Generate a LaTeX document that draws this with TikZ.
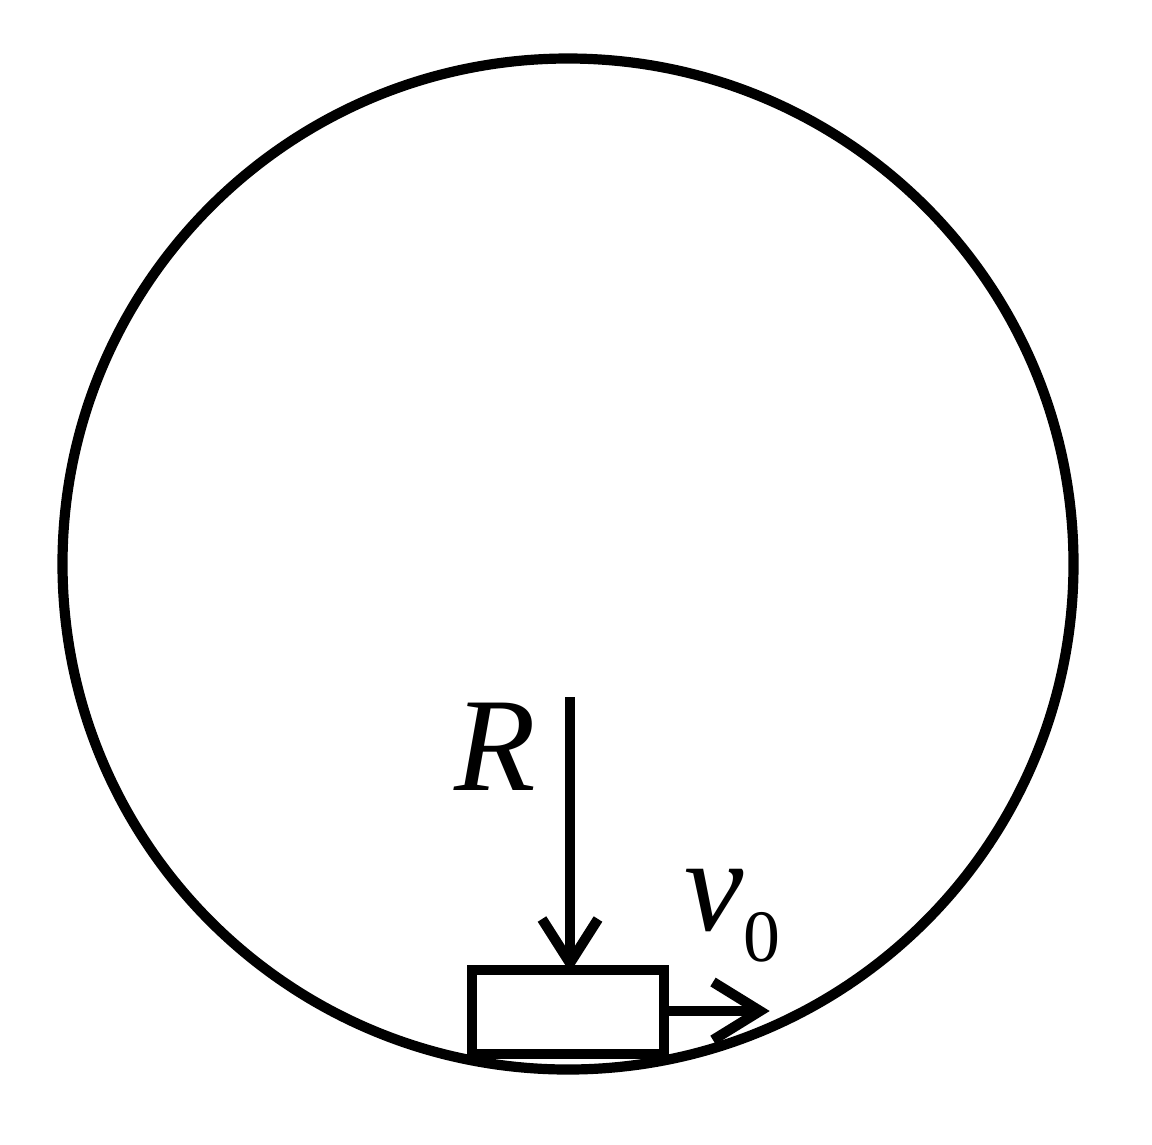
\documentclass[tikz,border=0pt]{standalone}
\usepackage{fontspec}
\setmainfont{Liberation Serif}
\usetikzlibrary{calc}
\begin{document}
\begin{tikzpicture}[x=0.02cm,y=-0.02cm,
  stroke/.style={line width=5.8pt,draw=black},
  lbl/.style={inner sep=0pt,anchor=base}]
\useasboundingbox (0,0) rectangle (1152,1144);
% track
\node[stroke,circle,minimum size=1011*0.02cm,inner sep=0pt] (track) at (568,564) {};
% block
\coordinate (blkNW) at (472,970);
\coordinate (blkSE) at (664,1054);
\draw[stroke,fill=white] (blkNW) rectangle (blkSE);
% R arrow
\coordinate (Rtop) at (570,697);
\coordinate (Rtip) at (570,963);
\draw[stroke] (Rtop) -- (Rtip);
\draw[stroke,miter limit=10] ($(Rtip)+(-28,-44)$) -- (Rtip) -- ($(Rtip)+(28,-44)$);
\node[lbl,font=\fontsize{76}{80}\selectfont\itshape] (Rlab) at (495,790) {R};
% v0 arrow
\coordinate (vstart) at (664,1011);
\coordinate (vtip) at (760,1011);
\draw[stroke] (vstart) -- ($(vtip)+(-8,0)$);
\draw[stroke,miter limit=10] ($(vtip)+(-47,-29)$) -- (vtip) -- ($(vtip)+(-47,29)$);
\node[lbl,font=\fontsize{76}{80}\selectfont\itshape] (vlab) at (714,930) {v};
\node[lbl,font=\fontsize{42}{46}\selectfont] (vsub) at (762,961) {0};
\end{tikzpicture}
\end{document}
